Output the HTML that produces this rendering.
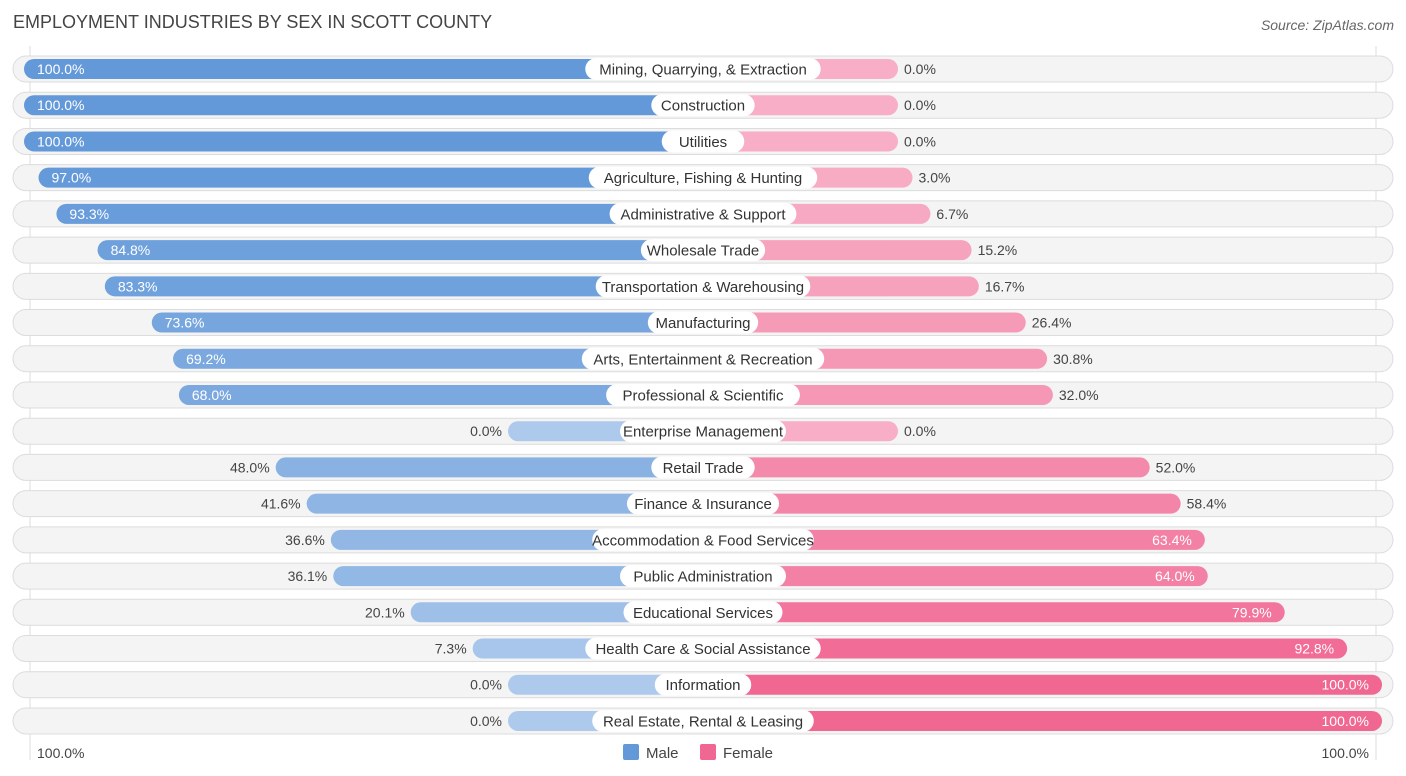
<!DOCTYPE html>
<html><head><meta charset="utf-8"><style>
body{margin:0;background:#fff;font-family:"Liberation Sans",sans-serif;}
svg{display:block}
</style></head><body>
<svg id="c" width="1406" height="776" xmlns="http://www.w3.org/2000/svg">
<text x="13" y="28" font-size="18" fill="#444">EMPLOYMENT INDUSTRIES BY SEX IN SCOTT COUNTY</text>
<text x="1394" y="30" font-size="14" fill="#666" font-style="italic" text-anchor="end">Source: ZipAtlas.com</text>
<line x1="30" y1="46" x2="30" y2="760" stroke="#ddd"/>
<line x1="1376" y1="46" x2="1376" y2="760" stroke="#ddd"/>
<g id="rows"></g>
<text x="37" y="758" font-size="14" fill="#444">100.0%</text>
<text x="1369" y="758" font-size="14" fill="#444" text-anchor="end">100.0%</text>
<g>
<rect x="623" y="744" width="16" height="16" rx="2" fill="#6399d9"/>
<text x="646" y="758" font-size="15" fill="#444">Male</text>
<rect x="700" y="744" width="16" height="16" rx="2" fill="#f06792"/>
<text x="723" y="758" font-size="15" fill="#444">Female</text>
</g>
</svg>
<script>
const categories=["Mining, Quarrying, & Extraction","Construction","Utilities","Agriculture, Fishing & Hunting","Administrative & Support","Wholesale Trade","Transportation & Warehousing","Manufacturing","Arts, Entertainment & Recreation","Professional & Scientific","Enterprise Management","Retail Trade","Finance & Insurance","Accommodation & Food Services","Public Administration","Educational Services","Health Care & Social Assistance","Information","Real Estate, Rental & Leasing"];
const maleValues=[100,100,100,97,93.3,84.8,83.3,73.6,69.2,68,0,48,41.6,36.6,36.1,20.1,7.3,0,0];
const femaleValues=[0,0,0,3,6.7,15.2,16.7,26.4,30.8,32,0,52,58.4,63.4,64,79.9,92.8,100,100];
const NS="http://www.w3.org/2000/svg";
const g=document.getElementById('rows');
const cx=703,minW=195,span=484,y0=69,dy=36.22;
function w(v){return minW+v/100*span;}
function mix(a,b,t){return 'rgb('+a.map((x,i)=>Math.round(x+(b[i]-x)*t)).join(',')+')';}
function el(tag,attrs,parent){const e=document.createElementNS(NS,tag);for(const k in attrs)e.setAttribute(k,attrs[k]);parent.appendChild(e);return e;}
function txtW(s){return s.length*6.95;}
categories.forEach((c,i)=>{
  const y=y0+i*dy;
  const row=el('g',{},g);
  
  
  const bg=el('rect',{x:13,y:y-13,width:1380,height:26,rx:13,fill:'#f4f4f4',stroke:'#dcdcdc'},row);
  
  
  const m=maleValues[i],f=femaleValues[i];
  const mw=w(m),fw=w(f);
  const mb=el('rect',{x:cx-mw,y:y-10,width:mw,height:20,rx:10,fill:mix([173,201,236],[99,153,217],m/100)},row);
  
  
  const fb=el('rect',{x:cx,y:y-10,width:fw,height:20,rx:10,fill:mix([247,174,198],[240,103,146],f/100)},row);
  
  
  const lw=txtW(c)+20;
  const lb=el('rect',{x:cx-lw/2,y:y-11,width:lw,height:22,rx:11,fill:'#fff'},row);
  
  
  const lt=el('text',{x:cx,y:y+5.5,'font-size':15,fill:'#333','text-anchor':'middle'},row);
  lt.textContent=c;
  
  
  const ml=el('text',{y:y+5,'font-size':14},row);
  ml.textContent=m.toFixed(1)+'%';
  if(m>60){ml.setAttribute('x',cx-mw+13);ml.setAttribute('fill','#fff');}
  else{ml.setAttribute('x',cx-mw-6);ml.setAttribute('text-anchor','end');ml.setAttribute('fill','#444');}
  
  
  const fl=el('text',{y:y+5,'font-size':14},row);
  fl.textContent=f.toFixed(1)+'%';
  if(f>60){fl.setAttribute('x',cx+fw-13);fl.setAttribute('text-anchor','end');fl.setAttribute('fill','#fff');}
  else{fl.setAttribute('x',cx+fw+6);fl.setAttribute('fill','#444');}
  
  
});
</script>
</body></html>
